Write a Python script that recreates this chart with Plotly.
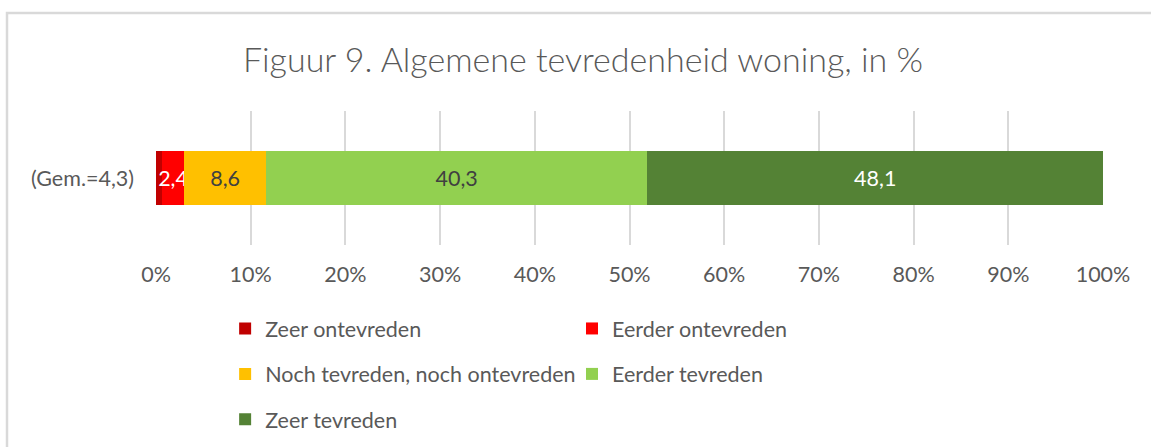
import plotly.graph_objects as go

categories = ["(Gem.=4,3)"]
series_names = ["Zeer ontevreden", "Eerder ontevreden", "Noch tevreden, noch ontevreden",
                "Eerder tevreden", "Zeer tevreden"]
series_values = [[0.6], [2.4], [8.6], [40.3], [48.1]]
series_colors = ["#C00000", "#FF0000", "#FFC000", "#92D050", "#548235"]
label_colors = ["#FFFFFF", "#FFFFFF", "#404040", "#404040", "#FFFFFF"]
show_label = [False, True, True, True, True]
tick_values = [0, 10, 20, 30, 40, 50, 60, 70, 80, 90, 100]
tick_labels = ["0%", "10%", "20%", "30%", "40%", "50%", "60%", "70%", "80%", "90%", "100%"]
legend_ids = ["legend", "legend2", "legend", "legend2", "legend"]

TEXT = "#595959"
FONT = "Lato, 'Open Sans', sans-serif"
FS = 21.5

fig = go.Figure()
for name, vals, col, lcol, show, lg in zip(series_names, series_values, series_colors,
                                          label_colors, show_label, legend_ids):
    fig.add_trace(go.Bar(
        y=categories, x=vals, name=name, orientation="h",
        marker=dict(color=col, line=dict(width=0)),
        text=[f"{v:.1f}".replace(".", ",") for v in vals] if show else None,
        textposition="inside", insidetextanchor="middle", textangle=0,
        textfont=dict(color=lcol, size=FS, family=FONT),
        width=0.4, legend=lg, legendgroup=name,
    ))

fig.update_layout(
    width=1151, height=447,
    barmode="stack",
    paper_bgcolor="white", plot_bgcolor="white",
    margin=dict(l=156, r=48, t=111, b=202, autoexpand=False),
    title=dict(text="Figuur 9. Algemene tevredenheid woning, in %",
               x=583 / 1151, xref="container", xanchor="center",
               y=1 - 60 / 447, yref="container", yanchor="middle",
               font=dict(family=FONT, size=34, color=TEXT, weight=300)),
    uniformtext=dict(minsize=FS, mode="show"),
    xaxis=dict(range=[0, 100], tickmode="array", tickvals=tick_values, ticktext=tick_labels,
               showgrid=True, gridcolor="#D9D9D9", gridwidth=1.5,
               zeroline=False, showline=False, ticks="",
               ticklabelstandoff=14,
               tickfont=dict(family=FONT, size=FS, color=TEXT)),
    yaxis=dict(range=[-0.5, 0.5], showgrid=False, zeroline=False, showline=False,
               ticks="", ticklabelstandoff=21,
               tickfont=dict(family=FONT, size=FS, color=TEXT)),
    legend=dict(orientation="v", x=0.073, xanchor="left", y=-0.47, yanchor="top",
                xref="paper", yref="paper", tracegroupgap=14.5,
                font=dict(family=FONT, size=FS, color=TEXT), bgcolor="rgba(0,0,0,0)"),
    legend2=dict(orientation="v", x=0.4393, xanchor="left", y=-0.47, yanchor="top",
                 xref="paper", yref="paper", tracegroupgap=14.5,
                 font=dict(family=FONT, size=FS, color=TEXT), bgcolor="rgba(0,0,0,0)"),
    shapes=[dict(type="rect", xref="paper", yref="paper",
                 x0=(7 - 156) / 947, x1=(1170 - 156) / 947,
                 y0=(245 - 470) / 134, y1=(245 - 13) / 134,
                 line=dict(color="#D9D9D9", width=2.5), fillcolor="rgba(0,0,0,0)",
                 layer="below")],
)

fig.write_html("out.html", config={"displayModeBar": False},
               post_script="document.body.style.margin='0';")
